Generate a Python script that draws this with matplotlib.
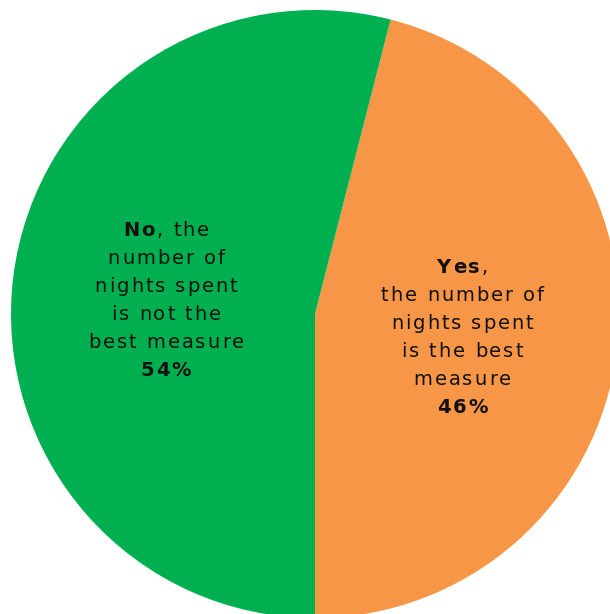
import matplotlib
matplotlib.use('Agg')
import matplotlib.pyplot as plt
from matplotlib.font_manager import FontProperties
from matplotlib.textpath import text_to_path
from matplotlib.transforms import offset_copy

# survey answers, share of respondents (%)
answers = ['Yes', 'No']
shares = [46, 54]
colors = ['#F79646', '#00B050']
first_lines = [',', ', the']
desc_lines = [
    ['the number of', 'nights spent', 'is the best', 'measure'],
    ['number of', 'nights spent', 'is not the', 'best measure'],
]
label_pos = [(0.484, -0.076), (-0.49, 0.046)]

DPI = 100
FS = 14
TRACK = 2.0  # extra pixels between letters

fig = plt.figure(figsize=(6.10, 6.14), dpi=DPI)
ax = fig.add_axes([11 / 610, -4 / 614, 608 / 610, 608 / 614])
ax.pie(shares, colors=colors, startangle=-90, counterclock=True,
       radius=1, wedgeprops=dict(linewidth=0))
ax.set_xlim(-1, 1)
ax.set_ylim(-1, 1)
ax.set_aspect('auto')
ax.axis('off')


def char_width(ch, weight):
    prop = FontProperties(family='DejaVu Sans', size=FS, weight=weight)
    w, h, d = text_to_path.get_text_width_height_descent(ch, prop, ismath=False)
    return w * DPI / 72


def spaced_line(x, y, runs):
    # runs: list of (text, weight); letters drawn one by one with tracking
    chars = [(ch, wt) for txt, wt in runs for ch in txt]
    widths = [char_width(ch, wt) for ch, wt in chars]
    total = sum(widths) + TRACK * (len(chars) - 1)
    dx = -total / 2
    for (ch, wt), w in zip(chars, widths):
        tr = offset_copy(ax.transData, fig=fig, x=dx, y=0, units='dots')
        ax.text(x, y, ch, transform=tr, ha='left', va='center_baseline',
                fontsize=FS, fontweight=wt, color='#111111')
        dx += w + TRACK


step = 28 / 304
for i in range(len(answers)):
    lines = [[(answers[i], 'bold'), (first_lines[i], 'normal')]]
    lines += [[(d, 'normal')] for d in desc_lines[i]]
    lines += [[(str(shares[i]) + '%', 'bold')]]
    x0, y0 = label_pos[i]
    n = len(lines)
    for k, runs in enumerate(lines):
        y = y0 + ((n - 1) / 2 - k) * step + 2 / 304
        spaced_line(x0, y, runs)

fig.savefig('out.png', dpi=DPI)
